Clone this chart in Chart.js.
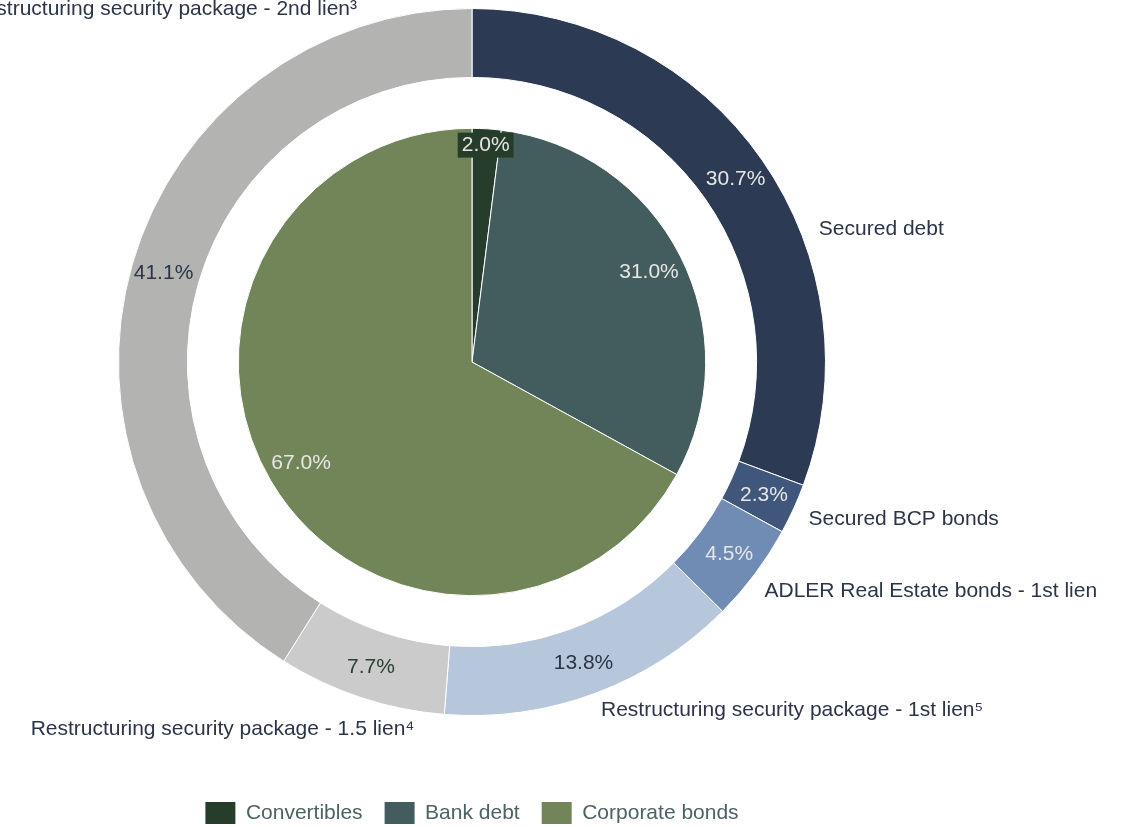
<!DOCTYPE html>
<html>
<head>
<meta charset="utf-8">
<script src="https://cdn.jsdelivr.net/npm/chart.js@4.4.1/dist/chart.umd.min.js"></script>
<style>
  html, body { margin: 0; padding: 0; background: #fff; }
  #wrap { width: 1128px; height: 827px; }
</style>
</head>
<body>
<div id="wrap"><canvas id="debtChart"></canvas></div>
<script>
// outer ring - security ranking
const securityLabels = [
  'Secured debt',
  'Secured BCP bonds',
  'ADLER Real Estate bonds - 1st lien',
  'Restructuring security package - 1st lien\u2075',
  'Restructuring security package - 1.5 lien\u2074',
  'Restructuring security package - 2nd lien\u00B3'
];
const securityValues = [30.7, 2.3, 4.5, 13.8, 7.7, 41.1];

// inner pie - instrument type
const instrumentLabels = ['Convertibles', 'Bank debt', 'Corporate bonds'];
const instrumentValues = [2.0, 31.0, 67.0];

// colours
const securityColors = ['#2c3a54', '#40577b', '#718cb4', '#b7c7db', '#cbcbcb', '#b3b3b2'];
const securityTextColors = ['#e6e6e6', '#e6e6e6', '#e6e6e6', '#2b3448', '#2a4030', '#2b3448'];
const instrumentColors = ['#263d2b', '#435c5e', '#728558'];
const instrumentTextColors = ['#e6e6e6', '#e6e6e6', '#e6e6e6'];

// where along each outer slice the category name sits (0 = start, 1 = end)
const nameAnchor = [0.625, 0.56, 0.58, 0.5, 0.16, 0.878];

const FONT = '"Liberation Sans", Arial, sans-serif';

const sliceLabels = {
  id: 'sliceLabels',
  afterDatasetsDraw(chart) {
    const ctx = chart.ctx;
    ctx.save();
    ctx.font = '21px ' + FONT;
    ctx.textBaseline = 'middle';

    // outer ring
    const outer = chart.getDatasetMeta(0);
    outer.data.forEach((arc, i) => {
      const p = arc.getProps(['x', 'y', 'startAngle', 'endAngle', 'innerRadius', 'outerRadius'], true);
      const mid = (p.startAngle + p.endAngle) / 2;
      const r = (p.innerRadius + p.outerRadius) / 2 + 2;
      ctx.textAlign = 'center';
      ctx.fillStyle = securityTextColors[i];
      ctx.fillText(securityValues[i].toFixed(1) + '%', p.x + Math.cos(mid) * r, p.y + Math.sin(mid) * r);

      const a = p.startAngle + (p.endAngle - p.startAngle) * nameAnchor[i];
      const rn = p.outerRadius + 18;
      const nx = p.x + Math.cos(a) * rn;
      const ny = p.y + Math.sin(a) * rn;
      ctx.textAlign = Math.cos(a) >= 0 ? 'left' : 'right';
      ctx.fillStyle = '#2b3448';
      ctx.fillText(securityLabels[i], nx, ny);
    });

    // inner pie
    const inner = chart.getDatasetMeta(2);
    inner.data.forEach((arc, i) => {
      const p = arc.getProps(['x', 'y', 'startAngle', 'endAngle', 'outerRadius'], true);
      const mid = (p.startAngle + p.endAngle) / 2;
      const small = instrumentValues[i] < 5;
      const r = p.outerRadius * (small ? 0.93 : 0.85);
      const tx = p.x + Math.cos(mid) * r;
      const ty = p.y + Math.sin(mid) * r;
      const txt = instrumentValues[i].toFixed(1) + '%';
      ctx.textAlign = 'center';
      if (small) {
        const w = ctx.measureText(txt).width + 8;
        ctx.fillStyle = instrumentColors[i];
        ctx.fillRect(tx - w / 2, ty - 12.5, w, 25);
      }
      ctx.fillStyle = instrumentTextColors[i];
      ctx.fillText(txt, tx, ty);
    });
    ctx.restore();
  }
};

new Chart(document.getElementById('debtChart'), {
  type: 'doughnut',
  data: {
    labels: securityLabels,
    datasets: [
      {
        label: 'Security',
        data: securityValues,
        backgroundColor: securityColors,
        borderColor: '#ffffff',
        borderWidth: 1,
        weight: 69
      },
      {
        label: 'gap',
        data: [1],
        backgroundColor: 'rgba(0,0,0,0)',
        borderWidth: 0,
        weight: 51
      },
      {
        label: 'Instrument',
        data: instrumentValues,
        backgroundColor: instrumentColors,
        borderColor: '#ffffff',
        borderWidth: 1,
        weight: 234
      }
    ]
  },
  options: {
    responsive: true,
    maintainAspectRatio: false,
    animation: false,
    cutout: 0,
    layout: { padding: { top: 8, left: 118, right: 302, bottom: 0 } },
    events: [],
    plugins: {
      tooltip: { enabled: false },
      legend: {
        position: 'bottom',
        maxHeight: 111,
        title: { display: true, text: '', font: { size: 10 }, padding: { top: 52, bottom: 0 } },
        labels: {
          boxWidth: 30,
          boxHeight: 22,
          padding: 22,
          color: '#4d6262',
          font: { size: 21, family: FONT },
          generateLabels: () => instrumentLabels.map((t, i) => ({
            text: t,
            fillStyle: instrumentColors[i],
            strokeStyle: instrumentColors[i],
            lineWidth: 0,
            fontColor: '#4d6262',
            index: i
          }))
        }
      }
    }
  },
  plugins: [sliceLabels]
});
</script>
</body>
</html>
